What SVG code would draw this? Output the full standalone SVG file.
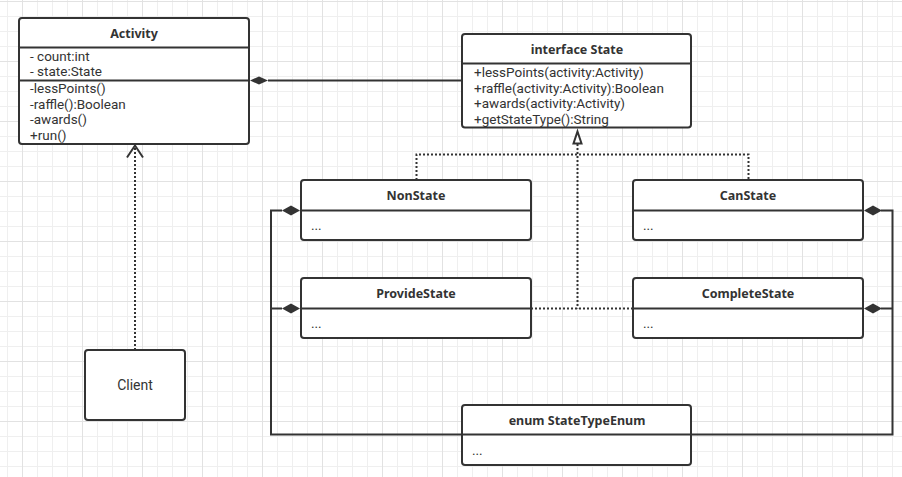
<svg xmlns="http://www.w3.org/2000/svg" width="902" height="477" viewBox="0 0 902 477">
<defs>
<pattern id="grid" x="22" y="1" width="60" height="60" patternUnits="userSpaceOnUse">
<path d="M15.5 0V60M30.5 0V60M45.5 0V60M0 15.5H60M0 30.5H60M0 45.5H60" stroke="#efefef" stroke-width="1" fill="none"/>
<path d="M0.5 0V60M0 0.5H60" stroke="#e2e2e2" stroke-width="1" fill="none"/>
</pattern>
</defs>
<style>
.box{fill:#fff;stroke:#333;stroke-width:2}
.sep{stroke:#333;stroke-width:2;fill:none}
.ln{stroke:#333;stroke-width:2;fill:none}
.dot{stroke:#333;stroke-width:2;fill:none;stroke-dasharray:2 2}
.dia{fill:#333}
.t{font-family:Roboto,"Liberation Sans",sans-serif;font-size:13.5px;fill:#333}
.b{font-family:"Noto Sans","Open Sans",sans-serif;font-size:12.5px;font-weight:bold;fill:#333;text-anchor:middle}
.m{text-anchor:middle;font-size:14px}
</style>
<rect width="902" height="477" fill="#fff"/>
<rect width="902" height="477" fill="url(#grid)"/>

<g id="connectors">
<line class="ln" x1="268" y1="80.5" x2="462" y2="80.5"/>
<path class="dia" d="M250 80.5L259 76.5L268 80.5L259 84.5Z"/>
<path class="dot" d="M135 350V146"/>
<path class="ln" d="M127 157.5L135 145.5L143 157.5"/>
<path class="dot" d="M416.5 180V154.5H748.5V180"/>
<path class="dot" d="M577.5 144V308.5"/>
<path class="dot" d="M531 308.5H633"/>
<path d="M577.5 131.5L581.5 143.5H573.5Z" fill="#fff" stroke="#333" stroke-width="2"/>
<path class="ln" d="M282 210.5H271V434.5H892.5V210.5H881"/>
<path class="ln" d="M282 308.5H271"/>
<path class="ln" d="M881 308.5H892.5"/>
<path class="dia" d="M300 210.5L291 205.5L282 210.5L291 215.5Z"/>
<path class="dia" d="M300 308.5L291 303.5L282 308.5L291 313.5Z"/>
<path class="dia" d="M864 210.5L873 205.5L882 210.5L873 215.5Z"/>
<path class="dia" d="M864 308.5L873 303.5L882 308.5L873 313.5Z"/>
</g>

<g id="Activity">
<rect class="box" x="19" y="18" width="230" height="126" rx="3"/>
<line class="sep" x1="19" y1="47.5" x2="249" y2="47.5"/>
<line class="sep" x1="19" y1="80.5" x2="249" y2="80.5"/>
<text class="b" x="134" y="38">Activity</text>
<text class="t" x="30" y="60.5">- count:int</text>
<text class="t" x="30" y="76">- state:State</text>
<text class="t" x="30" y="93">-lessPoints()</text>
<text class="t" x="30" y="108.5">-raffle():Boolean</text>
<text class="t" x="30" y="124">-awards()</text>
<text class="t" x="30" y="140">+run()</text>
</g>

<g id="State">
<rect class="box" x="462" y="34" width="229" height="93.5" rx="3"/>
<line class="sep" x1="462" y1="63.5" x2="691" y2="63.5"/>
<text class="b" x="577" y="53.5">interface State</text>
<text class="t" x="474" y="76.5">+lessPoints(activity:Activity)</text>
<text class="t" x="474" y="92.5">+raffle(activity:Activity):Boolean</text>
<text class="t" x="474" y="108">+awards(activity:Activity)</text>
<text class="t" x="474" y="124">+getStateType():String</text>
</g>

<g id="NonState">
<rect class="box" x="301" y="180" width="230" height="60" rx="3"/>
<line class="sep" x1="301" y1="210.5" x2="531" y2="210.5"/>
<text class="b" x="416" y="200">NonState</text>
<text class="t" x="311" y="230">...</text>
</g>

<g id="CanState">
<rect class="box" x="633" y="180" width="230" height="60" rx="3"/>
<line class="sep" x1="633" y1="210.5" x2="863" y2="210.5"/>
<text class="b" x="748" y="200">CanState</text>
<text class="t" x="643" y="230">...</text>
</g>

<g id="ProvideState">
<rect class="box" x="301" y="278" width="230" height="60" rx="3"/>
<line class="sep" x1="301" y1="308.5" x2="531" y2="308.5"/>
<text class="b" x="416" y="298">ProvideState</text>
<text class="t" x="311" y="328">...</text>
</g>

<g id="CompleteState">
<rect class="box" x="633" y="278" width="230" height="60" rx="3"/>
<line class="sep" x1="633" y1="308.5" x2="863" y2="308.5"/>
<text class="b" x="748" y="298">CompleteState</text>
<text class="t" x="643" y="328">...</text>
</g>

<g id="StateTypeEnum">
<rect class="box" x="462" y="405" width="229" height="60" rx="3"/>
<line class="sep" x1="462" y1="434.5" x2="691" y2="434.5"/>
<text class="b" x="577" y="424.5">enum StateTypeEnum</text>
<text class="t" x="472" y="455">...</text>
</g>

<g id="Client">
<rect class="box" x="85" y="350" width="100" height="70" rx="3"/>
<text class="t m" x="135" y="390">Client</text>
</g>
</svg>
